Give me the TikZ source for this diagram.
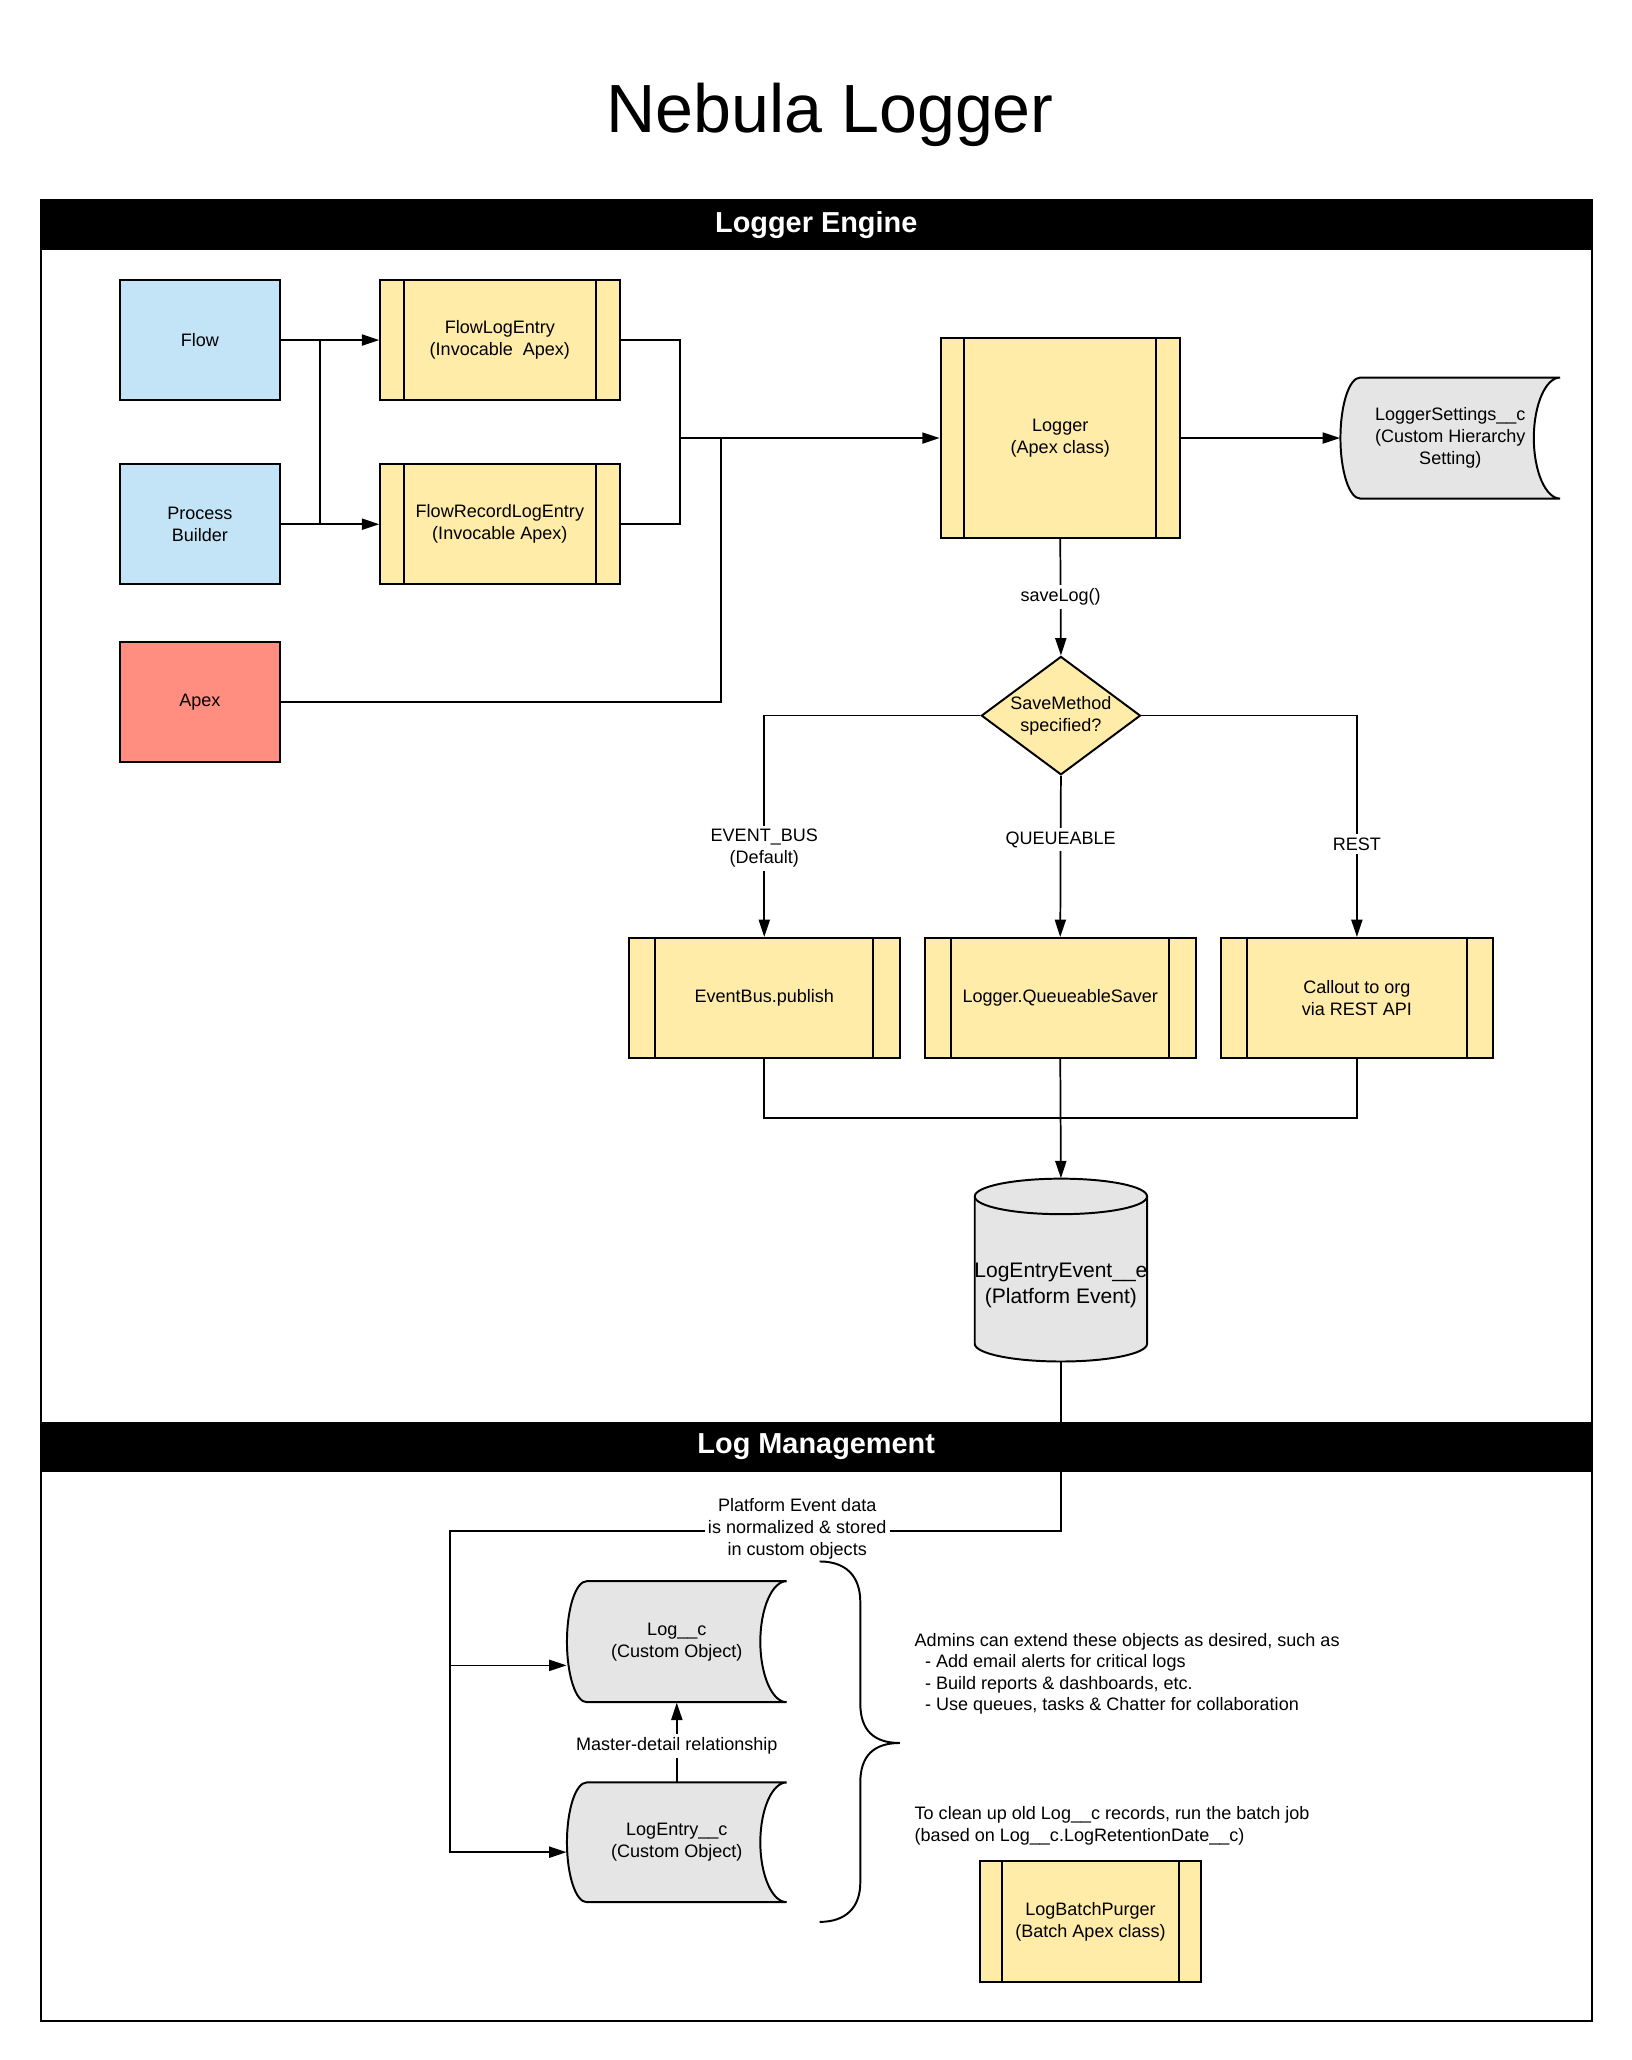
\documentclass[tikz,border=0pt]{standalone}
\usepackage{fontspec}
\setmainfont{Liberation Sans}
\usetikzlibrary{arrows.meta,shapes.geometric,calc}
\definecolor{bluec}{HTML}{C3E4F6}
\definecolor{ylwc}{HTML}{FFECA8}
\definecolor{redc}{HTML}{FF8E80}
\definecolor{grayc}{HTML}{E5E5E5}
\newcommand{\sdpath}[4]{%
  \pgfmathsetmacro{\sdym}{(#2+#4)/2}%
  \pgfmathsetmacro{\sdhh}{(#4-#2)/2*0.552}%
  \draw[shapeline,fill=grayc] (#1+15,#2) -- (#3,#2)
    .. controls (#3-11,#2) and (#3-20,\sdym-\sdhh) .. (#3-20,\sdym)
    .. controls (#3-20,\sdym+\sdhh) and (#3-11,#4) .. (#3,#4)
    -- (#1+15,#4)
    .. controls (#1+6.7,#4) and (#1,\sdym+\sdhh) .. (#1,\sdym)
    .. controls (#1,\sdym-\sdhh) and (#1+6.7,#2) .. (#1+15,#2) -- cycle;}
\tikzset{
  txt/.style={font=\fontsize{7.8}{9.5}\selectfont, align=center, inner sep=1pt},
  shapeline/.style={line width=0.85pt, draw=black},
  basebox/.style={txt, shapeline, inner sep=2pt},
  srcbox/.style={basebox, minimum width=2.44cm, minimum height=1.82cm},
  subproc/.style={basebox, fill=ylwc,
    path picture={\draw[line width=0.85pt]
      ([xshift=#1]path picture bounding box.north west) -- ([xshift=#1]path picture bounding box.south west)
      ([xshift=-#1]path picture bounding box.north east) -- ([xshift=-#1]path picture bounding box.south east);}},
  subproc/.default=0.36cm,
  ghost/.style={txt, inner sep=0pt},
  conn/.style={line width=0.75pt},
  arr/.style={conn, -{Triangle[length=7.5pt,width=4.8pt]}},
  lbl/.style={txt, fill=white, inner sep=1.5pt},
  hdr/.style={fill=black, text=white, font=\fontsize{12.5}{15}\selectfont\bfseries,
    minimum width=23.58cm, minimum height=0.76cm, inner sep=0pt},
  frame/.style={line width=0.85pt},
  note/.style={font=\fontsize{7.8}{9.3}\selectfont, align=left, inner sep=0pt, anchor=west}
}
\begin{document}
\begin{tikzpicture}[x=0.02cm,y=-0.02cm]
\useasboundingbox (0,0) rectangle (1240,1566);

% frame and title
\draw[frame] (31,152) rectangle (1210,1536);
\node[font=\fontsize{29.5}{34}\selectfont, inner sep=0pt] (title) at (631,87) {Nebula Logger};

% ---------- Logger Engine ----------
\node[srcbox, fill=bluec] (flow) at (152,258.5) {Flow};
\node[srcbox, fill=bluec] (pb) at (152,398.5) {Process\\Builder};
\node[srcbox, fill=redc] (apex) at (152,533.5) {Apex};

\node[subproc, minimum width=3.64cm, minimum height=1.82cm] (fle) at (380,258.5) {FlowLogEntry\\(Invocable~ Apex)};
\node[subproc, minimum width=3.64cm, minimum height=1.82cm] (frle) at (380,398.5) {FlowRecordLogEntry\\(Invocable Apex)};
\node[subproc, minimum width=3.64cm, minimum height=3.04cm] (logger) at (806,333) {Logger\\(Apex class)};

\sdpath{1019}{287}{1186}{379}
\node[ghost, minimum width=3.34cm, minimum height=1.84cm] (ls) at (1102.5,333) {LoggerSettings\_\_c\\(Custom Hierarchy\\Setting)};

\node[diamond, shapeline, fill=ylwc, txt, inner sep=0pt, aspect=1.34,
      minimum width=2.42cm, minimum height=1.8cm] (dia) at (806.5,544) {SaveMethod\\specified?};

\node[subproc=0.4cm, minimum width=4.12cm, minimum height=1.82cm] (eb) at (581,758.5) {EventBus.publish};
\node[subproc=0.4cm, minimum width=4.12cm, minimum height=1.82cm] (qs) at (806,758.5) {Logger.QueueableSaver};
\node[subproc=0.4cm, minimum width=4.14cm, minimum height=1.82cm] (cb) at (1031.5,758.5) {Callout to org\\via REST API};

% cylinder
\draw[shapeline, fill=grayc] (741,909.5) -- (741,1021.5)
  .. controls (741,1029) and (770.3,1035) .. (806.5,1035)
  .. controls (842.7,1035) and (872,1029) .. (872,1021.5)
  -- (872,909.5)
  .. controls (872,902) and (842.7,896) .. (806.5,896)
  .. controls (770.3,896) and (741,902) .. (741,909.5) -- cycle;
\draw[shapeline] (741,909.5) .. controls (741,917) and (770.3,923) .. (806.5,923)
  .. controls (842.7,923) and (872,917) .. (872,909.5);
\node[inner sep=0pt, minimum width=2.62cm, minimum height=2.78cm] (cyl) at (806.5,965.5) {};
\node[font=\fontsize{9.1}{11.3}\selectfont, align=center, inner sep=0pt] (cyltext) at (806.5,977) {LogEntryEvent\_\_e\\(Platform Event)};

% connectors (engine)
\coordinate (v1) at (243,258.5);
\coordinate (v2) at (243,398.5);
\coordinate (m) at (517,333);
\coordinate (m2) at (548,333);
\draw[arr] (flow.east) -- (fle.west);
\draw[arr] (pb.east) -- (frle.west);
\draw[conn] (v1) -- (v2);
\draw[conn] (fle.east) -| (m);
\draw[conn] (frle.east) -| (m);
\draw[arr] (m) -- (logger.west);
\draw[conn] (apex.east) -| (m2);
\draw[arr] (logger.east) -- (ls.west);
\draw[arr] (logger.south) -- node[lbl] {saveLog()} (dia.north);
\draw[arr] (dia.west) -| node[lbl, pos=0.8] {EVENT\_BUS\\(Default)} (eb.north);
\draw[arr] (dia.south) -- node[lbl, pos=0.395] {QUEUEABLE} (qs.north);
\draw[arr] (dia.east) -| node[lbl, pos=0.79] {REST} (cb.north);
\coordinate (bj) at (806,850);
\draw[conn] (eb.south) -- (eb.south |- bj) -| (cb.south);
\draw[arr] (qs.south) -- (cyl.north);

% ---------- Log Management ----------
\sdpath{431}{1202}{598}{1294}
\node[ghost, minimum width=3.34cm, minimum height=1.84cm] (lg) at (514.5,1248) {Log\_\_c\\(Custom Object)};
\sdpath{431}{1355}{598}{1446}
\node[ghost, minimum width=3.34cm, minimum height=1.82cm] (le) at (514.5,1400.5) {LogEntry\_\_c\\(Custom Object)};

\coordinate (j1) at (342,1164);
\coordinate (lgin) at ($(lg.west)+(0,18)$);
\coordinate (lein) at ($(le.west)+(0,7.5)$);
\draw[arr] (cyl.south) |- (j1) |- (lein);
\draw[arr] (j1 |- lgin) -- (lgin);
\node[lbl] (pelbl) at (606,1162) {Platform Event data\\is normalized \& stored\\in custom objects};
\draw[arr] (le.north) -- node[lbl, pos=0.45] {Master-detail relationship} (lg.south);

% brace
\draw[line width=0.85pt] (623,1187) .. controls (643,1187) and (654,1198) .. (654,1218)
  -- (654,1295) .. controls (654,1315) and (664,1325) .. (684,1325)
  .. controls (664,1325) and (654,1335) .. (654,1355)
  -- (654,1431) .. controls (654,1450) and (643,1461) .. (623,1461);

\node[note] (admins) at (695,1272.5) {Admins can extend these objects as desired, such as\\
  \hspace*{4.5pt}- Add email alerts for critical logs\\
  \hspace*{4.5pt}- Build reports \& dashboards, etc.\\
  \hspace*{4.5pt}- Use queues, tasks \& Chatter for collaboration};
\node[note] (cleanup) at (695,1388) {To clean up old Log\_\_c records, run the batch job\\(based on Log\_\_c.LogRetentionDate\_\_c)};

\node[subproc=0.34cm, minimum width=3.36cm, minimum height=1.84cm] (purger) at (829,1461) {LogBatchPurger\\(Batch Apex class)};

% header bars
\node[hdr] (h1) at (620.5,171) {Logger Engine};
\node[hdr] (h2) at (620.5,1100) {Log Management};
\end{tikzpicture}
\end{document}
